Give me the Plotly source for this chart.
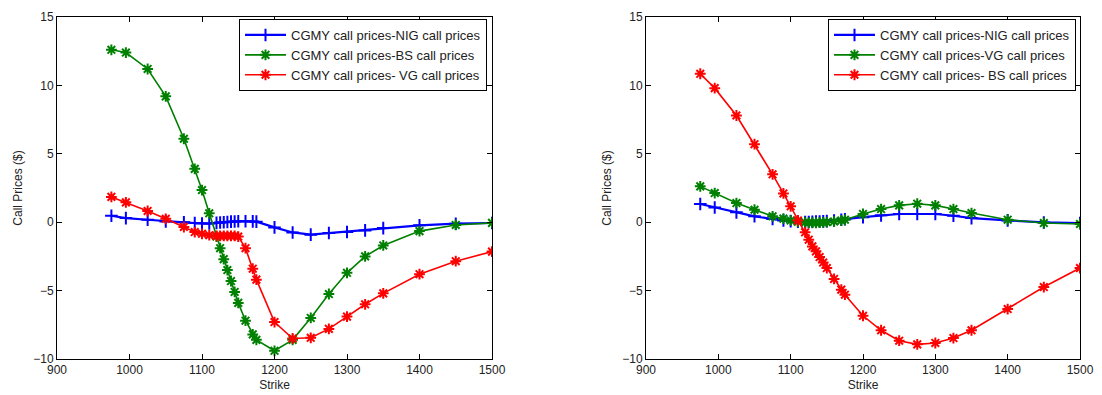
import plotly.graph_objects as go

strike = [975, 995, 1025, 1050, 1075, 1090, 1100, 1110, 1120, 1125, 1130, 1135, 1140, 1145,
          1150, 1160, 1170, 1175, 1200, 1225, 1250, 1275, 1300, 1325, 1350, 1400, 1450, 1500]

# Left panel
left_nig = [0.47, 0.3, 0.18, 0.06, -0.01, -0.06, -0.1, -0.1, -0.05, -0.02, 0.0, 0.02, 0.04, 0.05,
            0.07, 0.07, 0.06, 0.04, -0.38, -0.75, -0.91, -0.79, -0.72, -0.6, -0.43, -0.23, -0.11, -0.06]
left_bs = [12.6, 12.4, 11.2, 9.2, 6.1, 3.9, 2.35, 0.65, -1.05, -1.9, -2.7, -3.5, -4.3, -5.1,
           -5.9, -7.2, -8.2, -8.6, -9.4, -8.6, -7.0, -5.25, -3.7, -2.5, -1.7, -0.65, -0.2, -0.05]
left_vg = [1.85, 1.45, 0.82, 0.25, -0.35, -0.72, -0.85, -0.95, -1.0, -1.0, -1.0, -1.0, -1.0, -1.0,
           -1.05, -1.9, -3.4, -4.2, -7.3, -8.5, -8.45, -7.8, -6.9, -6.0, -5.2, -3.8, -2.85, -2.15]

# Right panel
right_nig = [1.33, 1.08, 0.72, 0.43, 0.23, 0.13, 0.08, 0.04, 0.02, 0.02, 0.03, 0.04, 0.05, 0.06,
             0.08, 0.12, 0.18, 0.22, 0.37, 0.5, 0.6, 0.6, 0.6, 0.47, 0.3, 0.13, -0.02, -0.06]
right_vg = [2.62, 2.13, 1.4, 0.91, 0.43, 0.26, 0.13, 0.03, -0.02, -0.03, -0.04, -0.04, -0.03, -0.02,
            0.0, 0.05, 0.12, 0.18, 0.6, 0.96, 1.23, 1.35, 1.23, 0.96, 0.67, 0.18, -0.06, -0.13]
right_bs = [10.85, 9.8, 7.8, 5.7, 3.5, 2.1, 1.16, 0.13, -0.74, -1.28, -1.77, -2.13, -2.55, -2.95,
            -3.35, -4.15, -4.93, -5.3, -6.84, -7.9, -8.66, -8.93, -8.83, -8.47, -7.9, -6.35, -4.74, -3.35]

left_names = ["CGMY call prices-NIG call prices", "CGMY call prices-BS call prices",
              "CGMY call prices- VG call prices"]
right_names = ["CGMY call prices-NIG call prices", "CGMY call prices-VG call prices",
               "CGMY call prices- BS call prices"]

BLUE, GREEN, RED = "#0000FF", "#008000", "#FF0000"

fig = go.Figure()

def add(y, name, color, sym, xa, ya, leg, lw):
    fig.add_trace(go.Scatter(
        x=strike, y=y, name=name, mode="lines+markers",
        line=dict(color=color, width=lw),
        marker=dict(symbol=sym, size=9, color=color, line=dict(color=color, width=2)),
        xaxis=xa, yaxis=ya, legend=leg))

add(left_nig, left_names[0], BLUE, "cross-thin-open", "x", "y", "legend", 2.2)
add(left_bs, left_names[1], GREEN, "asterisk-open", "x", "y", "legend", 1.6)
add(left_vg, left_names[2], RED, "asterisk-open", "x", "y", "legend", 1.6)
add(right_nig, right_names[0], BLUE, "cross-thin-open", "x2", "y2", "legend2", 2.2)
add(right_vg, right_names[1], GREEN, "asterisk-open", "x2", "y2", "legend2", 1.6)
add(right_bs, right_names[2], RED, "asterisk-open", "x2", "y2", "legend2", 1.6)

FONT = dict(family="Liberation Sans, Arial, sans-serif", size=12, color="#222")

axis_common = dict(showline=True, linecolor="black", linewidth=1, mirror="ticks",
                   ticks="inside", ticklen=5, tickcolor="black", showgrid=False,
                   zeroline=False, tickfont=FONT, automargin=False)

# Page body has an 8px margin; figure placed at (8, 8) in the window.
OFF = 8
W, H = 1102 - 2 * OFF, 395 - OFF
PL, PR, PT, PB = 57, 1080, 17, 359          # plot area in window pixels
L, T = PL - OFF, PT - OFF
R = W - (PR - OFF)
B = H - (PB - OFF)
pw = W - L - R
ph = H - T - B
d1 = (492 - PL) / pw
d2 = (646 - PL) / pw

legend_common = dict(bgcolor="white", bordercolor="black", borderwidth=1,
                     font=dict(family="Liberation Sans, Arial, sans-serif", size=13, color="#222"),
                     xanchor="right", yanchor="top", tracegroupgap=0, itemwidth=41)

fig.update_layout(
    width=W, height=H,
    margin=dict(l=L, r=R, t=T, b=B),
    paper_bgcolor="white", plot_bgcolor="white",
    font=FONT,
    xaxis=dict(domain=[0, d1], range=[900, 1500], dtick=100, anchor="y",
               title=dict(text="Strike", font=FONT, standoff=4), **axis_common),
    yaxis=dict(domain=[0, 1], range=[-10, 15], dtick=5, anchor="x",
               title=dict(text="Call Prices ($)", font=FONT, standoff=8), **axis_common),
    xaxis2=dict(domain=[d2, 1], range=[900, 1500], dtick=100, anchor="y2",
                title=dict(text="Strike", font=FONT, standoff=4), **axis_common),
    yaxis2=dict(domain=[0, 1], range=[-10, 15], dtick=5, anchor="x2",
                title=dict(text="Call Prices ($)", font=FONT, standoff=8), **axis_common),
    legend=dict(x=(487 - PL) / pw, y=1 - (19 - PT) / ph, **legend_common),
    legend2=dict(x=(1076 - PL) / pw, y=1 - (19 - PT) / ph, **legend_common),
)

fig.write_html("out.html")
